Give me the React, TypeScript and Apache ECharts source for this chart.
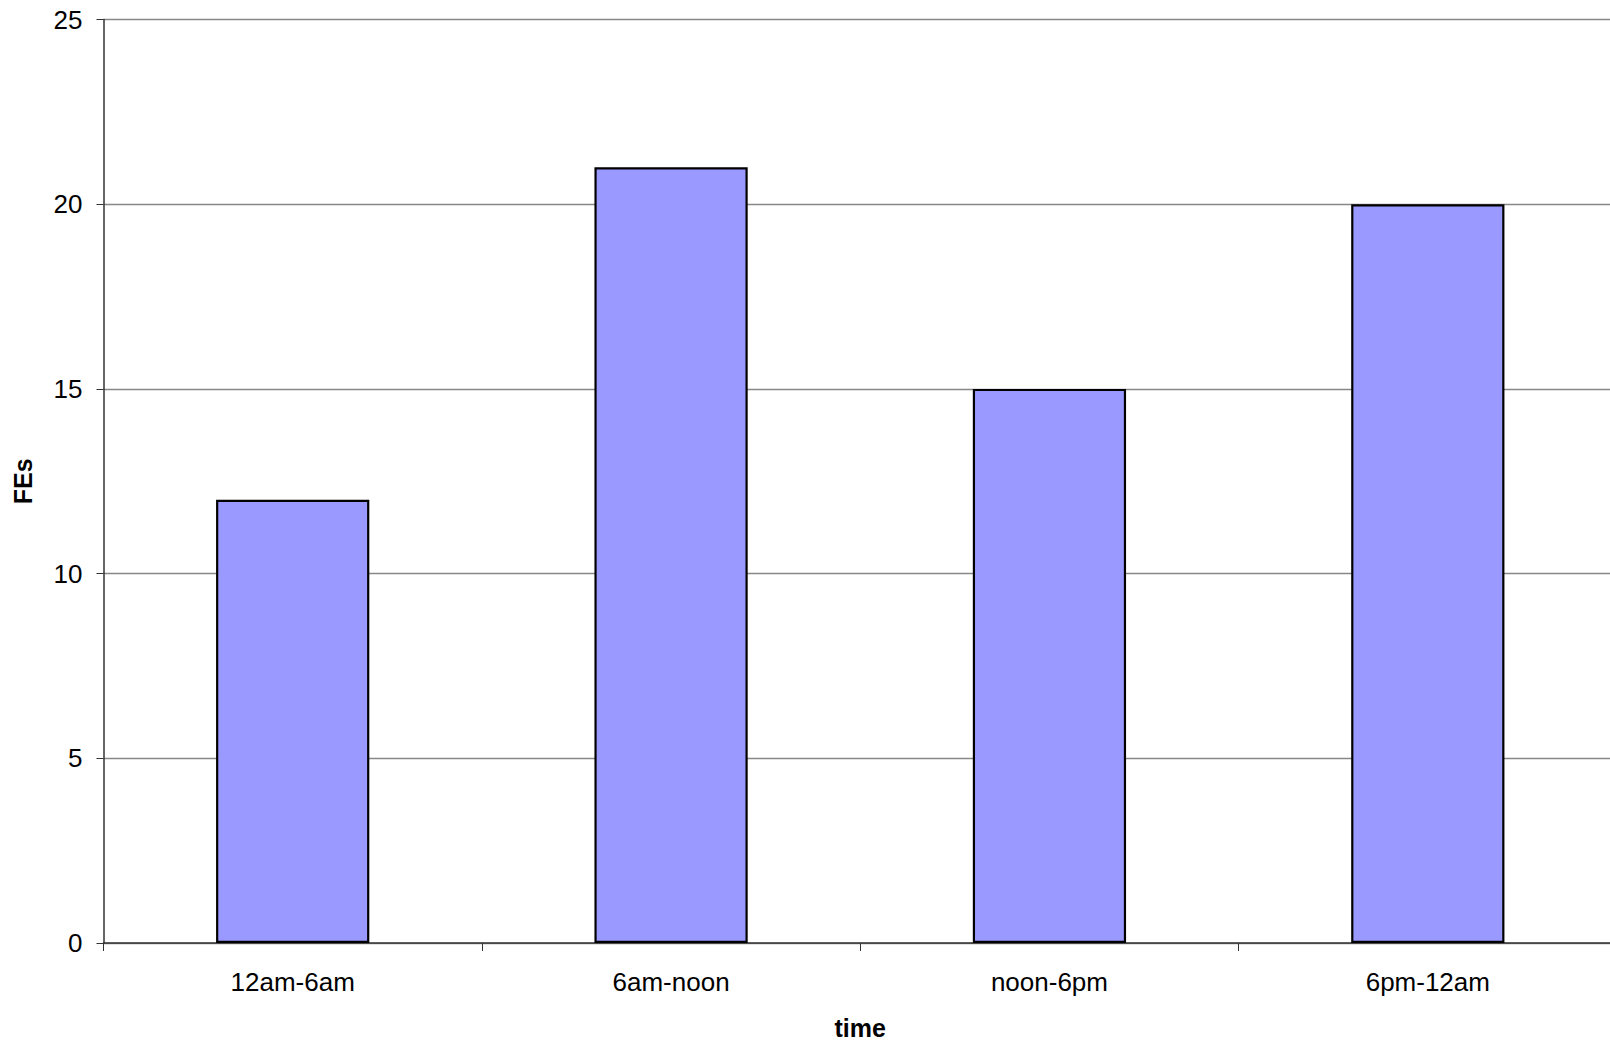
import React, { useEffect, useRef } from "react";
import * as echarts from "echarts";

const categories = ["12am-6am", "6am-noon", "noon-6pm", "6pm-12am"];
const fesValues = [12, 21, 15, 20];
const yTicks = { min: 0, max: 25, interval: 5 };

export default function App() {
  const ref = useRef<HTMLDivElement>(null);
  useEffect(() => {
    const chart = echarts.init(ref.current!, null, { renderer: "svg" });
    const font = "'Liberation Sans', Arial, sans-serif";
    chart.setOption({
      animation: false,
      backgroundColor: "#ffffff",
      grid: { left: 103.5, right: 0, top: 19.5, bottom: 100, containLabel: false },
      xAxis: {
        type: "category",
        data: categories,
        name: "time",
        nameLocation: "middle",
        nameGap: 72,
        nameTextStyle: { fontFamily: font, fontSize: 25, fontWeight: "bold", color: "#000" },
        axisLine: { lineStyle: { color: "#333", width: 1.5 } },
        axisTick: { show: true, length: 8, lineStyle: { color: "#333" } },
        axisLabel: { fontFamily: font, fontSize: 26, color: "#000", margin: 26 },
        splitLine: { show: false },
      },
      yAxis: {
        type: "value",
        min: yTicks.min,
        max: yTicks.max,
        interval: yTicks.interval,
        name: "FEs",
        nameLocation: "middle",
        nameGap: 68,
        nameRotate: 90,
        nameTextStyle: { fontFamily: font, fontSize: 25, fontWeight: "bold", color: "#000" },
        axisLine: { show: true, lineStyle: { color: "#333", width: 1.5 } },
        axisTick: { show: true, length: 7, lineStyle: { color: "#333" } },
        axisLabel: { fontFamily: font, fontSize: 26, color: "#000", margin: 21 },
        splitLine: { show: true, lineStyle: { color: "#888", width: 1.3 } },
      },
      series: [
        {
          type: "bar",
          data: fesValues,
          barWidth: "40.5%",
          itemStyle: { color: "#9999FF", borderColor: "#000", borderWidth: 2.2 },
        },
      ],
    });
    return () => chart.dispose();
  }, []);
  return (
    <div style={{ position: "absolute", left: 0, top: 0, width: 1610, height: 1045, overflow: "hidden" }}>
      <div ref={ref} style={{ width: 1617, height: 1045 }} />
    </div>
  );
}
